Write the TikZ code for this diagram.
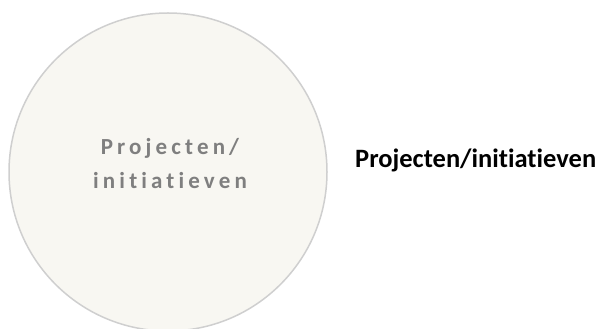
\documentclass[tikz,border=0pt]{standalone}
\usepackage{fontspec}
\setmainfont[Ligatures=NoCommon]{Carlito}
\newfontfamily\spacedfont[LetterSpace=18,Ligatures=NoCommon]{Carlito}
\usepackage{tikz}

\definecolor{circlefill}{HTML}{F8F7F2}
\definecolor{circleline}{HTML}{CFCFCF}
\definecolor{innertext}{HTML}{7F7F7F}

\begin{document}
\begin{tikzpicture}[x=1pt,y=1pt]
  \useasboundingbox (0,0) rectangle (600,329);

  % Circle
  \node[circle,draw=circleline,line width=1.5pt,fill=circlefill,
        minimum size=318pt,inner sep=0pt] (proj) at (168,157) {};

  % Text inside the circle
  \node[anchor=base,align=center,text=innertext,
        font={\spacedfont\bfseries\fontsize{23}{34}\selectfont}]
    (projtext) at (170,140) {Projecten/\\initiatieven};

  % Label
  \node[anchor=base west,inner sep=0pt,
        font={\bfseries\fontsize{26.5}{30}\selectfont}]
    (legend) at (355,161) {Projecten/initiatieven};
\end{tikzpicture}
\end{document}
